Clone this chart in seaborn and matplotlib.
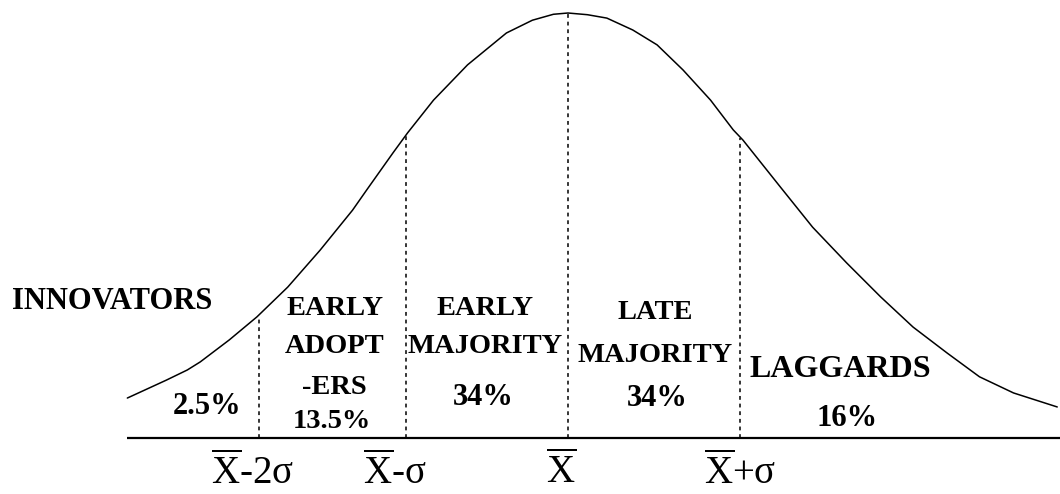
import numpy as np
import pandas as pd
import matplotlib
matplotlib.use("Agg")
import matplotlib.pyplot as plt
import seaborn as sns

# ---- data (x in sigma units from the mean, y in % of peak height) ----
curve_x = [-2.72, -2.48, -2.35, -2.27, -2.09, -1.92, -1.73, -1.53, -1.33, -1.24, -1.08, -0.99,
           -0.83, -0.62, -0.38, -0.22, -0.09, 0.00, 0.12, 0.24, 0.40, 0.55, 0.71, 0.88,
           1.02, 1.08, 1.31, 1.51, 1.72, 1.93, 2.13, 2.34, 2.54, 2.75, 3.02]
curve_y = [9.4, 13.6, 16.0, 17.9, 23.1, 28.5, 35.5, 44.2, 53.6, 58.5, 67.1, 71.8,
           79.5, 87.8, 95.3, 98.3, 99.7, 100.0, 99.6, 98.8, 96.0, 92.5, 86.6, 79.5,
           72.5, 70.1, 59.1, 49.6, 41.2, 33.2, 26.1, 20.0, 14.4, 10.6, 7.3]

boundaries = [-1.91, -1.00, 0.00, 1.06]          # X-2σ, X-σ, X, X+σ
boundary_tops = [28.8, 71.5, 100.0, 70.5]
boundary_labels = [r"$\overline{\mathrm{X}}$-2σ", r"$\overline{\mathrm{X}}$-σ",
                   r"$\overline{\mathrm{X}}$", r"$\overline{\mathrm{X}}$+σ"]

categories = ["INNOVATORS", ["EARLY", "ADOPT", "-ERS"], ["EARLY", "MAJORITY"],
              ["LATE", "MAJORITY"], "LAGGARDS"]
shares = ["2.5%", "13.5%", "34%", "34%", "16%"]

# ---- figure ----
sns.set_theme(style="white")
plt.rcParams["font.family"] = ["Liberation Serif", "DejaVu Serif"]
plt.rcParams["mathtext.fontset"] = "custom"
plt.rcParams["mathtext.rm"] = "Liberation Serif"
plt.rcParams["mathtext.it"] = "Liberation Serif:italic"
plt.rcParams["mathtext.bf"] = "Liberation Serif:bold"

fig = plt.figure(figsize=(10.6, 4.94), dpi=100)
ax = fig.add_axes([0, 0, 1, 1])
ax.set_xlim(-3.506, 3.037)
ax.set_ylim(-13.18, 103.06)
ax.axis("off")

df = pd.DataFrame({"x": curve_x, "y": curve_y})
sns.lineplot(data=df, x="x", y="y", ax=ax, color="black", lw=1.1, sort=True)

# baseline
ax.hlines(0, curve_x[0], 3.037, color="black", lw=1.6)
# dotted boundaries
ax.vlines(boundaries, 0, boundary_tops, color="black", lw=1.1, linestyles=(0, (2.5, 2.5)))

# boundary labels
label_shift = [-0.04, -0.07, -0.04, 0.0]
for b, s, lab in zip(boundaries, label_shift, boundary_labels):
    ax.text(b + s, -8.2, lab, ha="center", va="center", fontsize=28, color="black")

big = dict(fontsize=22, color="black", va="center", fontweight="bold")
spaced = dict(fontsize=20.5, color="black", va="center", ha="center", fontweight="bold")

# INNOVATORS
ax.text(-3.43, 32.0, categories[0], ha="left", **big)
ax.text(-2.23, 7.3, shares[0], ha="center", **big)

# EARLY ADOPTERS
for line, yy in zip(categories[1], [30.4, 21.6, 11.8]):
    ax.text(-1.44, yy, line, **spaced)
ax.text(-1.46, 3.8, shares[1], **spaced)

# EARLY MAJORITY
for line, yy in zip(categories[2], [30.4, 21.6]):
    ax.text(-0.51, yy, line, **spaced)
ax.text(-0.52, 9.6, shares[2], ha="center", **big)

# LATE MAJORITY
for line, yy in zip(categories[3], [29.6, 19.5]):
    ax.text(0.54, yy, line, **spaced)
ax.text(0.55, 9.4, shares[3], ha="center", **big)

# LAGGARDS
ax.text(1.68, 16.0, categories[4], ha="center", fontsize=23, color="black",
        va="center", fontweight="bold")
ax.text(1.72, 4.7, shares[4], ha="center", fontsize=22, color="black",
        va="center", fontweight="bold")

fig.savefig("out.png", dpi=100, facecolor="white")
